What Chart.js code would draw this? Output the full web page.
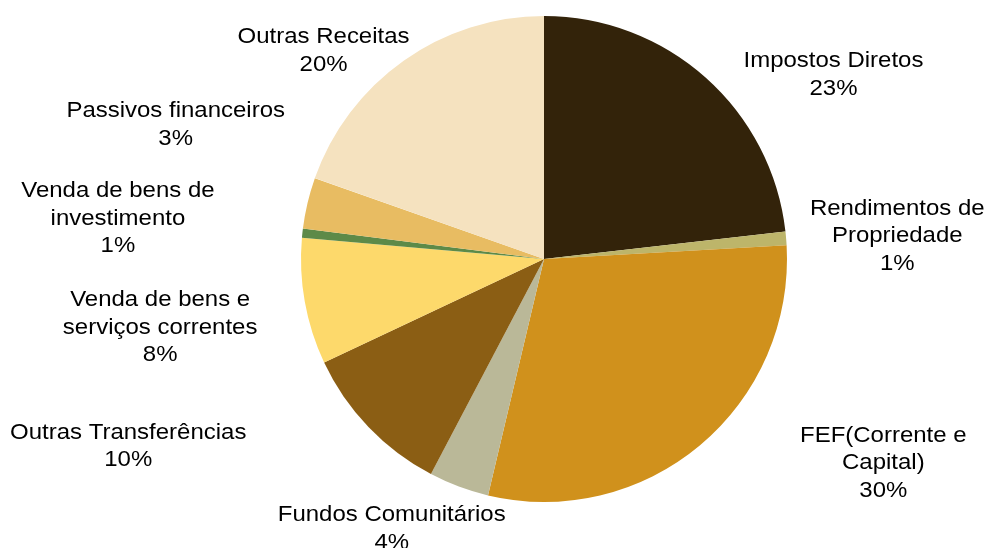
<!DOCTYPE html>
<html>
<head>
<meta charset="utf-8">
<script src="https://cdn.jsdelivr.net/npm/chart.js@4/dist/chart.umd.min.js"></script>
<style>
    html, body { margin: 0; padding: 0; background: #fff; }
    #wrap { width: 986px; height: 548px; }
</style>
</head>
<body>
<div id="wrap"><canvas id="pieChart" width="986" height="548"></canvas></div>
<script>
// categories (one entry per label line)
const categories = [
    ['Impostos Diretos'],
    ['Rendimentos de', 'Propriedade'],
    ['FEF(Corrente e', 'Capital)'],
    ['Fundos Comunitários'],
    ['Outras Transferências'],
    ['Venda de bens e', 'serviços correntes'],
    ['Venda de bens de', 'investimento'],
    ['Passivos financeiros'],
    ['Outras Receitas']
];
// share of revenue, %
const shares = [23.2, 0.9, 29.6, 4.0, 10.3, 8.4, 0.6, 3.4, 19.6];
const colors = ['#33230A', '#BDB56A', '#D0911C', '#BAB898', '#8B5E14', '#FDD96B', '#5D8A48', '#E8BC62', '#F5E2BF'];

// label placement: angle shift (deg) from slice middle and distance beyond the rim (px)
const labelShift = [15.8, 1.2, -19.0, 8.9, 19.5, -0.1, -0.7, 6.7, -11.4];
const labelGap = [100, 111, 153, 67, 213, 147, 185, 149, 60];

const total = shares.reduce((a, b) => a + b, 0);

const outsideLabels = {
    id: 'outsideLabels',
    afterDatasetsDraw(chart) {
        const ctx = chart.ctx;
        const meta = chart.getDatasetMeta(0);
        ctx.save();
        ctx.font = '22px "Liberation Sans", Arial, sans-serif';
        ctx.fillStyle = '#000';
        ctx.textAlign = 'center';
        ctx.textBaseline = 'middle';
        const lineH = 27.5;
        meta.data.forEach((arc, i) => {
            const p = arc.getProps(['x', 'y', 'startAngle', 'endAngle', 'outerRadius'], true);
            const mid = (p.startAngle + p.endAngle) / 2 + labelShift[i] * Math.PI / 180;
            const d = p.outerRadius + labelGap[i];
            const cx = p.x + d * Math.cos(mid);
            const cy = p.y + d * Math.sin(mid);
            const lines = categories[i].concat([Math.round(shares[i] / total * 100) + '%']);
            const top = cy - (lines.length - 1) * lineH / 2;
            lines.forEach((t, k) => {
                ctx.save();
                ctx.translate(cx, top + k * lineH);
                ctx.scale(1.09, 1);   // source text is slightly wide
                ctx.fillText(t, 0, 0);
                ctx.restore();
            });
        });
        ctx.restore();
    }
};

new Chart(document.getElementById('pieChart'), {
    type: 'pie',
    data: {
        labels: categories.map(c => c.join(' ')),
        datasets: [{
            data: shares,
            backgroundColor: colors,
            borderWidth: 0
        }]
    },
    options: {
        responsive: false,
        animation: false,
        layout: { padding: { left: 102, right: 0, top: 16, bottom: 46 } },
        plugins: {
            legend: { display: false },
            tooltip: { enabled: false }
        }
    },
    plugins: [outsideLabels]
});
</script>
</body>
</html>
